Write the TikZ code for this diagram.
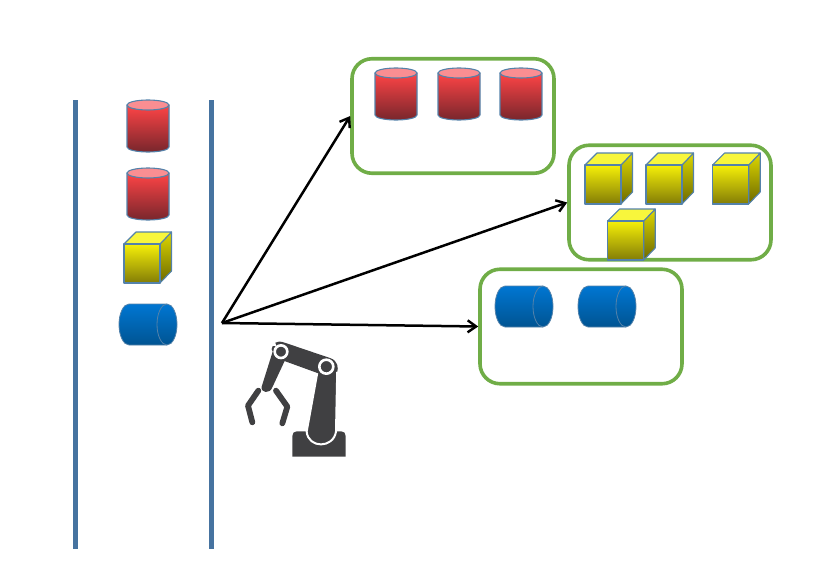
\documentclass[tikz,border=0pt]{standalone}
\usetikzlibrary{arrows.meta}
\definecolor{edgeblue}{RGB}{84,130,170}
\definecolor{barblue}{RGB}{70,115,160}
\definecolor{boxgreen}{RGB}{112,173,71}
\definecolor{redtop}{RGB}{254,68,70}
\definecolor{redmid}{RGB}{226,60,62}
\definecolor{redbot}{RGB}{120,38,44}
\definecolor{redlid}{RGB}{250,142,146}
\definecolor{yeltop}{RGB}{246,240,8}
\definecolor{yelmid}{RGB}{218,212,4}
\definecolor{yelbot}{RGB}{130,124,6}
\definecolor{sidetop}{RGB}{222,216,0}
\definecolor{sidebot}{RGB}{108,104,0}
\definecolor{lidyel}{RGB}{248,246,60}
\definecolor{bluetop}{RGB}{0,118,210}
\definecolor{bluebot}{RGB}{0,84,146}
\definecolor{robot}{RGB}{64,64,66}
\tikzset{
  x=1pt,y=-1pt,
  bar/.style={fill=barblue,draw=none},
  binbox/.style={draw=boxgreen,line width=3.6pt,rounded corners=20pt,minimum width=202pt,minimum height=114.5pt,inner sep=0pt,fill=none},
  sortarrow/.style={draw=black,line width=2.5pt,-{Straight Barb[length=8.5pt,width=12pt,line width=2.4pt]}},
  outl/.style={draw=edgeblue,line width=1.1pt,line join=round},
  rob/.style={fill=robot,draw=none},
  gripper/.style={draw=robot,line width=5.8pt,line cap=round,line join=round},
  pics/redcyl/.style={code={
    \path[outl,top color=redtop,middle color=redmid,bottom color=redbot] (0,5) -- (0,47) .. controls (0,49.8) and (9.4,52) .. (21,52) .. controls (32.6,52) and (42,49.8) .. (42,47) -- (42,5) -- cycle;
    \path[outl,fill=redlid] (21,5) ellipse[x radius=21,y radius=5];
  }},
  pics/yelcube/.style={code={
    \path[outl,top color=sidetop,bottom color=sidebot] (36,12) -- (47.5,0) -- (47.5,39) -- (36,51) -- cycle;
    \path[outl,fill=lidyel] (0,12) -- (12,0) -- (47.5,0) -- (36,12) -- cycle;
    \path[outl,top color=yeltop,middle color=yelmid,bottom color=yelbot] (0,12) rectangle (36,51);
  }},
  pics/bluecyl/.style={code={
    \path[draw=edgeblue,line width=.8pt,top color=bluetop,bottom color=bluebot] (10,0) -- (48,0) .. controls (53.5,0) and (58,9.2) .. (58,20.5) .. controls (58,31.8) and (53.5,41) .. (48,41) -- (10,41) .. controls (4.5,41) and (0,31.8) .. (0,20.5) .. controls (0,9.2) and (4.5,0) .. (10,0) -- cycle;
    \draw[edgeblue,line width=.8pt] (48,0) .. controls (42.5,0) and (38,9.2) .. (38,20.5) .. controls (38,31.8) and (42.5,41) .. (48,41);
  }}
}
\begin{document}
\begin{tikzpicture}
\useasboundingbox (0,0) rectangle (827,570);
\fill[bar] (73,100) rectangle (78,549);
\fill[bar] (209,100) rectangle (214,549);
\node[binbox] (binA) at (453,116) {};
\node[binbox] (binB) at (670,202.5) {};
\node[binbox] (binC) at (581,326.5) {};
\coordinate (origin) at (222,323);
\draw[sortarrow] (origin) -- (binA.west);
\draw[sortarrow] (origin) -- (binB.west);
\draw[sortarrow] (origin) -- (binC.west);
\pic at (127,100) {redcyl};
\pic at (127,168) {redcyl};
\pic at (124,232) {yelcube};
\pic at (119,304) {bluecyl};
\pic at (375,68) {redcyl};
\pic at (438,68) {redcyl};
\pic at (500,68) {redcyl};
\pic at (585,153) {yelcube};
\pic at (646,153) {yelcube};
\pic at (712.7,153) {yelcube};
\pic at (607.7,209) {yelcube};
\pic at (495,286) {bluecyl};
\pic at (578,286) {bluecyl};
% robot arm
\begin{scope}[shift={(230,330)},x=0.3333pt,y=-0.3333pt]
  \path[rob] (187,380) -- (187,318) .. controls (187,310) and (192,304) .. (200,304) -- (334,304) .. controls (342,304) and (347,310) .. (347,318) -- (347,380) -- cycle;
  \path[fill=robot,draw=white,line width=2pt] (263,122) -- (322,110) -- (318,305) .. controls (310,356) and (235,356) .. (230,305) -- cycle;
  \path[rob] (136,38) .. controls (150,32) and (160,36) .. (170,40) -- (300,84) .. controls (325,92) and (325,115) .. (322,125) -- (265,130) -- (155,90) -- cycle;
  \path[rob] (128,48) .. controls (122,55) and (126,60) .. (128,65) -- (95,170) .. controls (92,190) and (120,192) .. (127,172) -- (170,80) -- (170,50) -- cycle;
  \draw[gripper] (85,182) -- (54,227) -- (67,277);
  \draw[gripper] (138,182) -- (172,230) -- (157,280);
  \draw[white,line width=2.6pt,fill=robot] (153,65) circle[radius=19];
  \draw[white,line width=2.6pt,fill=robot] (289,110) circle[radius=21];
\end{scope}
\end{tikzpicture}
\end{document}
